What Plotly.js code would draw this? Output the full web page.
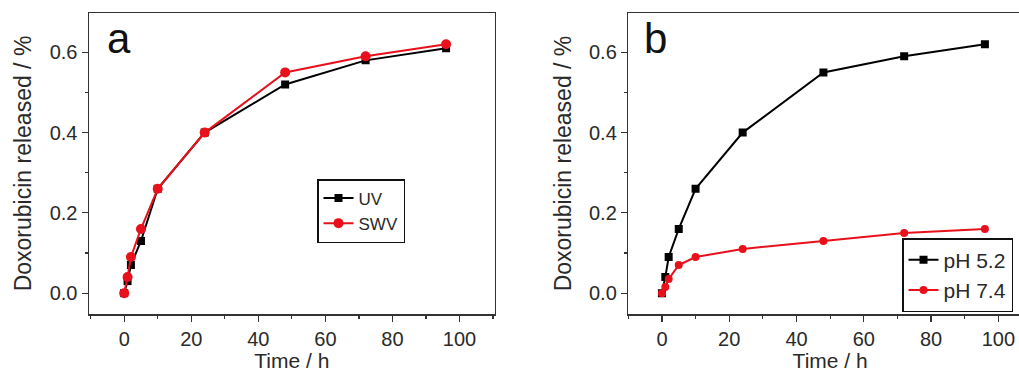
<!DOCTYPE html>
<html>
<head>
<meta charset="utf-8">
<script src="https://cdn.plot.ly/plotly-3.0.1.min.js"></script>
<style>
html,body{margin:0;padding:0;overflow:hidden;background:#fff;}
#chart{width:1032px;height:372px;}
</style>
</head>
<body>
<div id="chart"></div>
<script>
// Panel a: release measured by UV vs SWV
const timeA = [0, 1, 2, 5, 10, 24, 48, 72, 96];
const uvValues = [0, 0.03, 0.07, 0.13, 0.26, 0.40, 0.52, 0.58, 0.61];
const swvValues = [0, 0.04, 0.09, 0.16, 0.26, 0.40, 0.55, 0.59, 0.62];
// Panel b: release at two pH values
const timeB = [0, 1, 2, 5, 10, 24, 48, 72, 96];
const ph52Values = [0, 0.04, 0.09, 0.16, 0.26, 0.40, 0.55, 0.59, 0.62];
const ph74Values = [0, 0.015, 0.035, 0.07, 0.09, 0.11, 0.13, 0.15, 0.16];
const seriesNames = ['UV', 'SWV', 'pH 5.2', 'pH 7.4'];
const panelLabels = ['a', 'b'];
const xTitle = 'Time / h';
const yTitle = 'Doxorubicin released / %';

const BLACK = '#000000';
const RED = '#e8101a';
const TXT = '#2a2a2a';
const FONT = 'Liberation Sans, Arial, sans-serif';

const traces = [
  {x: timeA, y: uvValues, name: seriesNames[0], xaxis: 'x', yaxis: 'y', mode: 'lines+markers',
   line: {color: BLACK, width: 2}, marker: {symbol: 'square', size: 8, color: BLACK}, legend: 'legend'},
  {x: timeA, y: swvValues, name: seriesNames[1], xaxis: 'x', yaxis: 'y', mode: 'lines+markers',
   line: {color: RED, width: 2}, marker: {symbol: 'circle', size: 10, color: RED}, legend: 'legend'},
  {x: timeB, y: ph52Values, name: seriesNames[2], xaxis: 'x2', yaxis: 'y2', mode: 'lines+markers',
   line: {color: BLACK, width: 2}, marker: {symbol: 'square', size: 8, color: BLACK}, legend: 'legend2'},
  {x: timeB, y: ph74Values, name: seriesNames[3], xaxis: 'x2', yaxis: 'y2', mode: 'lines+markers',
   line: {color: RED, width: 2}, marker: {symbol: 'circle', size: 8, color: RED}, legend: 'legend2'}
];

function xAxis(domain, range, anchor, standoff) {
  return {
    domain: domain, range: range, anchor: anchor,
    showgrid: false, zeroline: false,
    showline: true, linecolor: '#333', linewidth: 1.5, mirror: true,
    ticks: 'outside', ticklen: 6, tickwidth: 1.2, tickcolor: '#333',
    tick0: 0, dtick: 20,
    minor: {ticks: 'outside', ticklen: 3, tickcolor: '#333', dtick: 10, tick0: 0, showgrid: false},
    tickfont: {family: FONT, size: 20, color: TXT},
    title: {text: xTitle, font: {family: FONT, size: 21, color: TXT}, standoff: standoff}
  };
}
function yAxis(domain, range, anchor) {
  return {
    domain: domain, range: range, anchor: anchor,
    showgrid: false, zeroline: false,
    showline: true, linecolor: '#333', linewidth: 1.5, mirror: true,
    ticks: 'outside', ticklen: 6, tickwidth: 1.2, tickcolor: '#333',
    tick0: 0, dtick: 0.2, tickformat: '.1f',
    minor: {ticks: 'outside', ticklen: 3, tickcolor: '#333', dtick: 0.1, tick0: 0, showgrid: false},
    tickfont: {family: FONT, size: 20, color: TXT},
    title: {text: yTitle, font: {family: FONT, size: 23, color: TXT}, standoff: 11}
  };
}

const W = 1032;
const layout = {
  width: W, height: 372,
  margin: {l: 0, r: 0, t: 13, b: 58},
  paper_bgcolor: '#fff', plot_bgcolor: '#fff',
  font: {family: FONT, color: TXT},
  showlegend: true,
  xaxis: xAxis([89 / W, 494.7 / W], [-10.5, 110.5], 'y', 6),
  yaxis: yAxis([0, 1], [-0.052, 0.698], 'x'),
  xaxis2: xAxis([628.3 / W, 1], [-10, 110], 'y2', 0),
  yaxis2: yAxis([0, 1], [-0.052, 0.698], 'x2'),
  legend: {x: 317 / W, y: (314 - 179) / 301, xanchor: 'left', yanchor: 'top',
    bgcolor: '#fff', bordercolor: '#111', borderwidth: 1.5,
    font: {family: FONT, size: 17, color: TXT}, itemwidth: 30},
  legend2: {x: 902 / W, y: (314 - 238) / 301, xanchor: 'left', yanchor: 'top',
    bgcolor: '#fff', bordercolor: '#111', borderwidth: 1.5,
    font: {family: FONT, size: 21, color: TXT}, itemwidth: 30},
  annotations: [
    {text: panelLabels[0], xref: 'x domain', yref: 'y domain', x: 0.04, y: 1.0,
     xanchor: 'left', yanchor: 'top', showarrow: false, font: {family: FONT, size: 42, color: '#111'}},
    {text: panelLabels[1], xref: 'x2 domain', yref: 'y2 domain', x: 0.035, y: 1.0,
     xanchor: 'left', yanchor: 'top', showarrow: false, font: {family: FONT, size: 42, color: '#111'}}
  ]
};

Plotly.newPlot('chart', traces, layout, {displayModeBar: false, staticPlot: true});
</script>
</body>
</html>
